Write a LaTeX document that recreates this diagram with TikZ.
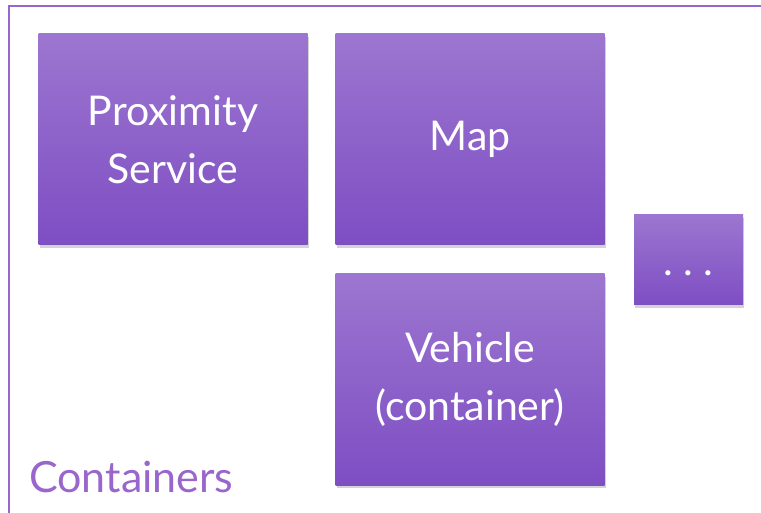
\documentclass[tikz,border=0pt]{standalone}
\usepackage{fontspec}
\setmainfont{Lato}
\usepackage{tikz}
\usetikzlibrary{shapes,shadows}
\definecolor{boxtop}{HTML}{9C76D0}
\definecolor{boxbottom}{HTML}{7E4EC3}
\definecolor{framepurple}{HTML}{9966CC}

\begin{document}
\begin{tikzpicture}[x=1pt, y=1pt, node distance = 297pt]
        \tikzstyle{block} = [rectangle, top color=boxtop, bottom color=boxbottom, text=white, align=center, minimum width=269pt, minimum height=211pt, inner sep=0pt, font=\fontsize{41}{58}\selectfont, drop shadow={shadow xshift=1pt, shadow yshift=-3pt, opacity=0.35}]
        \tikzstyle{small} = [block, minimum width=109pt, minimum height=90pt]

    \useasboundingbox (0,0) rectangle (761,-513);
    \draw [framepurple, line width=2pt] (9,-530) -- (9,-6) -- (780,-6);

    \node [block] (proximity) at (173,-139.5) {Proximity\\Service};
    \node [block, right of=proximity] (map) {Map};
    \node [block, below of=map, node distance=240pt] (vehicle) {Vehicle\\(container)};
    \node [small] (more) at (688.5,-260) {\raisebox{-16pt}[0pt][0pt]{.\hspace{10pt}.\hspace{10pt}.}};

    \node [anchor=base west, inner sep=0pt, text=framepurple, font=\fontsize{43}{48}\selectfont] (containers) at (29,-492) {Containers};

    \end{tikzpicture}
\end{document}
